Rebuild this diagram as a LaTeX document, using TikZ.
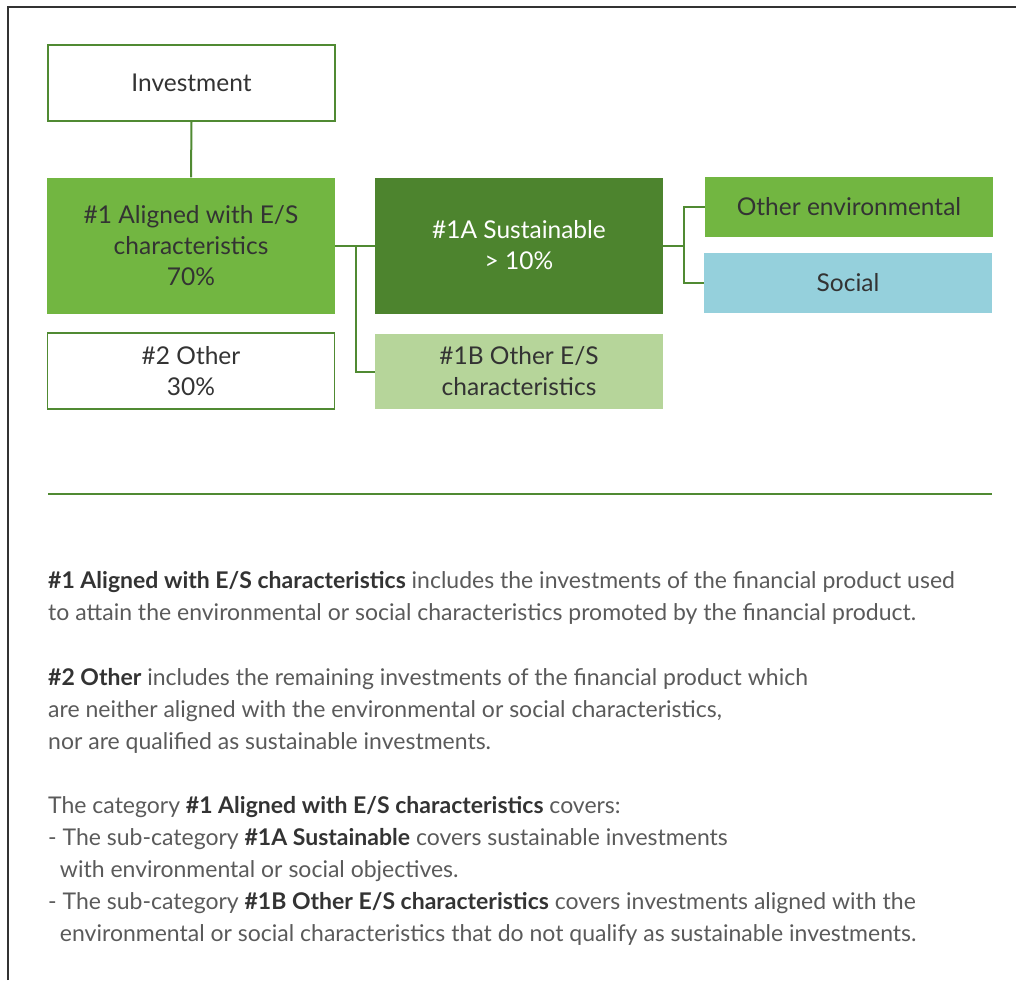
\documentclass[tikz,border=0pt]{standalone}
\usepackage{fontspec}
\setmainfont{Lato}
\usetikzlibrary{calc}
\definecolor{leafgreen}{RGB}{80,138,50}
\definecolor{midgreen}{RGB}{114,182,65}
\definecolor{darkgreen}{RGB}{77,132,46}
\definecolor{palegreen}{RGB}{182,213,154}
\definecolor{paleblue}{RGB}{149,208,220}
\definecolor{textgray}{RGB}{51,51,51}
\definecolor{bodygray}{RGB}{90,90,90}
\tikzstyle{outline} = [draw=leafgreen, line width=1.5pt, fill=white, minimum width=287pt, minimum height=76pt, align=center, text=textgray, font=\fontsize{24.5}{31}\selectfont]
\tikzstyle{block} = [minimum width=288pt, minimum height=136pt, align=center, text=textgray, font=\fontsize{24.5}{31}\selectfont]
\tikzstyle{wire} = [leafgreen, line width=2pt]
\tikzstyle{para} = [anchor=base west, align=left, inner sep=0pt, text=bodygray, font=\fontsize{23}{32}\selectfont]
\newcommand{\hl}[1]{\textcolor{textgray}{\textbf{#1}}}

\begin{document}
\begin{tikzpicture}[x=1pt, y=-1pt]
  \useasboundingbox (0,0) rectangle (1016,980);
  % frame
  \draw[line width=2pt, black!80] (8,980) -- (8,7) -- (1016,7);

  % boxes
  \node[outline] (inv) at (191.5,83) {Investment};
  \node[block, fill=midgreen] (al) at (191,245.5) {\#1 Aligned with E/S\\characteristics\\70\%};
  \node[outline] (oth) at (191,371) {\#2 Other\\30\%};
  \node[block, fill=darkgreen, text=white] (sus) at (519,245.5) {\#1A Sustainable\\> 10\%};
  \node[block, fill=palegreen, minimum height=75pt] (oes) at (519,371.5) {\#1B Other E/S\\characteristics};
  \node[block, fill=midgreen, minimum height=60pt] (env) at (849,207) {Other environmental};
  \node[block, fill=paleblue, minimum height=60pt] (soc) at (848,283) {Social};

  % connectors
  \coordinate (j1) at ($(al.east)+(20.5,0)$);
  \coordinate (j2) at ($(sus.east)+(20.5,0)$);
  \draw[wire] (inv.south) -- (al.north);
  \draw[wire] (al.east) -- (sus.west);
  \draw[wire] (j1) |- (oes.west);
  \draw[wire] (sus.east) -- (j2);
  \draw[wire] (j2) |- (env.west);
  \draw[wire] (j2) |- (soc.west);

  % divider
  \draw[wire] (48,494) -- (992,494);

  % notes
  \node[para] (p1) at (48,620) {\hl{\#1 Aligned with E/S characteristics} includes the investments of the financial product used\\to attain the environmental or social characteristics promoted by the financial product.};
  \node[para] (p2) at (48,749) {\hl{\#2 Other} includes the remaining investments of the financial product which\\are neither aligned with the environmental or social characteristics,\\nor are qualified as sustainable investments.};
  \node[para] (p3) at (48,941) {The category \hl{\#1 Aligned with E/S characteristics} covers:\\- The sub-category \hl{\#1A Sustainable} covers sustainable investments\\\ \ with environmental or social objectives.\\- The sub-category \hl{\#1B Other E/S characteristics} covers investments aligned with the\\\ \ environmental or social characteristics that do not qualify as sustainable investments.};
\end{tikzpicture}
\end{document}
